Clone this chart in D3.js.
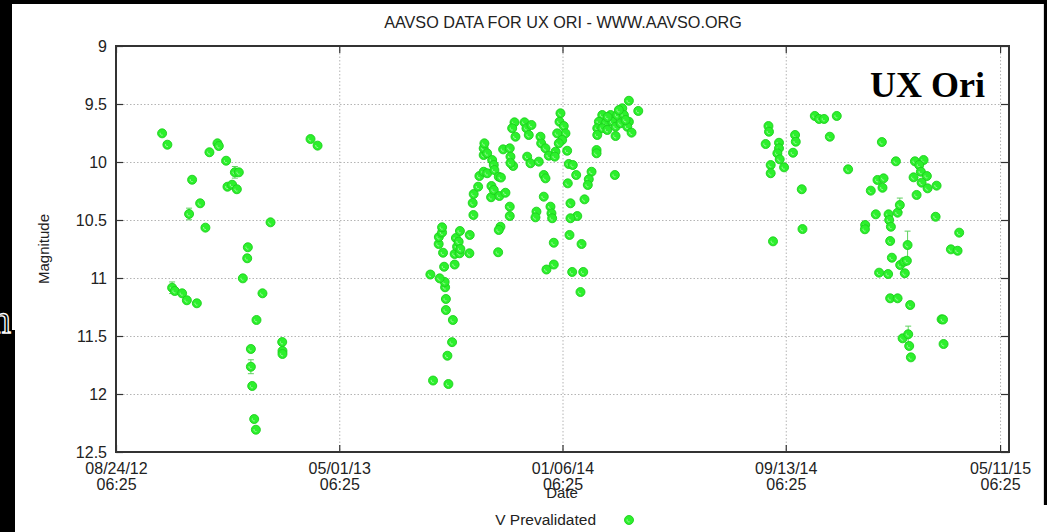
<!DOCTYPE html>
<html>
<head>
<meta charset="utf-8">
<script src="https://cdn.jsdelivr.net/npm/d3@7"></script>
<style>
  html, body { margin: 0; padding: 0; background: #000; }
  svg { display: block; }
  text { font-family: "Liberation Sans", Arial, Helvetica, sans-serif; fill: #222; }
</style>
</head>
<body>
<div id="chart"></div>
<script>
// julian dates minus 2456000, V magnitudes, error (0 = no bar)
var jd = [
  215.4, 221.3, 268.4, 277.4, 278.9, 287.1, 296.9, 301.3, 249.0, 288.6,
  293.8, 299.1, 258.0, 245.6, 263.9, 336.8, 381.6, 389.5, 311.4, 310.7,
  305.8, 327.8, 226.6, 229.6, 237.8, 243.1, 254.3, 321.1, 349.9, 350.2,
  350.2, 314.8, 314.8, 316.3, 318.5, 320.4,
  518.8, 536.0, 534.9, 540.1, 541.0, 533.2, 533.2, 532.3, 531.8, 526.2,
  515.8, 531.2, 530.0, 525.1, 525.3, 528.9, 528.9, 543.0, 543.0, 545.7,
  544.4, 548.9, 548.6, 559.5, 559.9, 547.5, 549.4,
  564.0, 563.2, 564.3, 569.3, 570.7, 575.5, 579.4, 575.5, 575.5, 576.3,
  579.4, 585.0, 586.8, 587.5, 592.4, 594.8, 584.2, 583.8, 586.8, 593.1,
  599.9, 594.3, 592.4, 591.7, 604.7, 604.7, 597.3, 604.7, 605.5, 608.5,
  605.5, 610.0, 607.4, 611.1, 621.2, 623.4, 626.0, 629.0, 624.2, 627.9,
  637.2, 639.1, 639.9, 634.6, 633.5, 642.8, 642.8, 645.8,
  738.1, 748.6, 661.5, 660.4, 665.2, 667.1, 657.8, 663.4, 659.6, 644.7,
  655.9, 648.4, 655.1, 669.0, 670.8, 675.3, 679.1, 644.7, 669.7, 696.3,
  693.2, 692.1, 722.4, 701.9, 701.9, 650.3, 651.4, 652.2, 672.7, 688.4,
  680.3, 672.7, 671.6, 654.0, 685.1, 654.0, 674.6, 687.0, 683.9,
  708.3, 717.6, 704.5, 712.0, 719.5, 725.1, 730.7, 732.5, 702.7, 708.3,
  713.9, 723.2, 728.8, 738.1, 736.3, 702.7, 723.2, 741.1, 734.4, 726.9,
  714.2,
  894.4, 895.0, 891.3, 906.2, 906.2, 904.4, 907.0, 896.9, 896.9, 911.9,
  924.2, 925.0, 921.9, 946.3, 951.1, 956.7, 970.9, 963.1, 931.7, 932.5,
  899.5, 983.6, 1002.7, 1002.4,
  1021.4, 1037.1, 1058.4, 1068.1, 1063.2, 1065.1, 1071.8, 1056.9, 1065.9, 1072.6,
  1082.7, 1060.3, 1016.5, 1023.3, 1022.1, 1009.0, 1014.6, 1028.9, 1039.0, 1041.5,
  1029.6, 1031.5, 1081.6, 1108.0, 1098.7, 1106.2, 1030.7, 1050.2, 1032.6, 1041.9,
  1046.4, 1049.4, 1018.3, 1028.4, 1047.1, 1030.7, 1039.0, 1053.1, 1088.3, 1089.9,
  1044.6, 1050.9, 1052.0, 1090.5, 1053.9
];

var mag = [
  9.753, 9.851, 9.916, 9.839, 9.862, 9.989, 10.089, 10.089, 10.153, 10.213,
  10.196, 10.235, 10.356, 10.448, 10.566, 10.520, 9.802, 9.859, 10.735, 10.830,
  11.003, 11.132, 11.084, 11.112, 11.132, 11.192, 11.218, 11.362, 11.552, 11.629,
  11.655, 11.612, 11.765, 11.931, 12.216, 12.308,
  11.884, 11.914, 11.670, 11.553, 11.362, 11.276, 11.181, 11.080, 11.034, 11.003,
  10.970, 10.903, 10.782, 10.707, 10.647, 10.608, 10.563, 10.884, 10.793, 10.730,
  10.655, 10.595, 10.787, 10.787, 10.629, 10.687, 10.750,
  10.457, 10.353, 10.276, 10.213, 10.121, 10.084, 10.097, 9.940, 9.882, 9.839,
  9.925, 9.983, 10.026, 10.069, 10.127, 10.134, 10.207, 10.304, 10.241, 10.293,
  10.265, 10.558, 10.586, 10.778, 10.385, 10.466, 9.891, 9.882, 9.954, 10.034,
  10.009, 9.658, 9.709, 9.782, 9.658, 9.709, 9.767, 9.681, 9.954, 10.011,
  9.997, 9.782, 9.839, 10.428, 10.477, 10.112, 10.299, 10.927,
  9.472, 9.560, 9.580, 9.653, 9.690, 9.753, 9.753, 9.810, 9.839, 9.882,
  9.911, 9.946, 9.954, 9.903, 10.017, 10.026, 10.112, 10.141, 10.184, 10.084,
  10.149, 10.198, 10.112, 9.897, 9.925, 10.385, 10.442, 10.485, 10.356, 10.322,
  10.466, 10.485, 10.629, 10.696, 10.707, 10.884, 10.948, 10.948, 11.121,
  9.595, 9.595, 9.653, 9.666, 9.653, 9.595, 9.537, 9.595, 9.709, 9.709,
  9.724, 9.696, 9.666, 9.653, 9.696, 9.767, 9.776, 9.747, 9.638, 9.552,
  9.612,
  9.690, 9.739, 9.845, 9.834, 9.882, 9.925, 9.977, 10.026, 10.097, 10.046,
  9.767, 9.825, 9.920, 9.603, 9.629, 9.629, 9.603, 9.782, 10.235, 10.578,
  10.684, 10.063, 10.543, 10.580,
  9.828, 9.994, 9.994, 9.983, 10.026, 10.084, 10.121, 10.132, 10.178, 10.227,
  10.204, 10.284, 10.155, 10.141, 10.222, 10.247, 10.451, 10.451, 10.437, 10.371,
  10.500, 10.558, 10.472, 10.609, 10.753, 10.765, 10.681, 10.716, 10.825, 10.888,
  10.859, 10.851, 10.954, 10.966, 10.959, 11.175, 11.175, 11.233, 11.356, 11.358,
  11.520, 11.485, 11.586, 11.569, 11.684
];

// only a few points show error bars
var errIndex = [6, 13, 22, 32, 214, 222, 236];
var errSize  = [0.05, 0.05, 0.05, 0.06, 0.06, 0.12, 0.07];

var yTicks = [9, 9.5, 10, 10.5, 11, 11.5, 12, 12.5];
var xTicks = ["2012-08-24T06:25Z", "2013-05-01T06:25Z", "2014-01-06T06:25Z",
              "2014-09-13T06:25Z", "2015-05-11T06:25Z"];
var xStart = "2012-08-24T06:25Z";
var xEnd = "2015-05-21T06:25Z";

var title = "AAVSO DATA FOR UX ORI - WWW.AAVSO.ORG";
var starName = "UX Ori";
var legendLabel = "V Prevalidated";

var W = 1047, H = 532;
var margin = {top: 46, right: 38, bottom: 80, left: 116};
var width = W - margin.left - margin.right;
var height = H - margin.top - margin.bottom;

function jdToDate(j) {
    return new Date((2456000 + j - 2440587.5) * 864e5);
}

var points = jd.map(function(j, i) {
    var k = errIndex.indexOf(i);
    return {date: jdToDate(j), mag: mag[i], err: k >= 0 ? errSize[k] : 0};
});

var x = d3.scaleUtc()
    .domain([new Date(xStart), new Date(xEnd)])
    .range([0, width]);
var y = d3.scaleLinear()
    .domain([9, 12.5])
    .range([0, height]);

var svg = d3.select("#chart")
    .append("svg")
    .attr("width", W)
    .attr("height", H);

// page background with black borders
svg.append("rect").attr("width", W).attr("height", H).attr("fill", "#000");
svg.append("rect")
    .attr("x", 12).attr("y", 4)
    .attr("width", 1031).attr("height", H - 4)
    .attr("fill", "#fff");
svg.append("rect").attr("x", 0).attr("y", 330).attr("width", 15).attr("height", H - 330).attr("fill", "#000");
svg.append("rect").attr("x", 1043).attr("y", 505).attr("width", 4).attr("height", H - 505).attr("fill", "#fff");
svg.append("line")
    .attr("x1", 1043.5).attr("x2", 1043.5).attr("y1", 4).attr("y2", 505)
    .attr("stroke", "#ddd");
svg.append("text")
    .attr("x", -9).attr("y", 333)
    .style("font-family", "'Liberation Serif', 'Times New Roman', serif")
    .style("font-size", "40px")
    .style("fill", "#000")
    .attr("stroke", "#fff")
    .attr("stroke-width", 1.3)
    .text("n");

var g = svg.append("g")
    .attr("transform", "translate(" + margin.left + "," + margin.top + ")");

// dotted grid
g.append("g")
    .selectAll("line")
    .data(yTicks.slice(1, -1))
    .enter().append("line")
    .attr("x1", 0).attr("x2", width)
    .attr("y1", function(d) { return y(d) + 0.5; })
    .attr("y2", function(d) { return y(d) + 0.5; })
    .attr("stroke", "#b4b4b4")
    .attr("stroke-dasharray", "1.5,2");

g.append("g")
    .selectAll("line")
    .data(xTicks.slice(1))
    .enter().append("line")
    .attr("x1", function(d) { return x(new Date(d)) + 0.5; })
    .attr("x2", function(d) { return x(new Date(d)) + 0.5; })
    .attr("y1", 0).attr("y2", height)
    .attr("stroke", "#b4b4b4")
    .attr("stroke-dasharray", "1.5,2");

// axes
var fmtDate = d3.utcFormat("%m/%d/%y");
var fmtTime = d3.utcFormat("%H:%M");

var yAxis = g.append("g")
    .call(d3.axisLeft(y).tickValues(yTicks).tickSize(-7).tickPadding(9)
        .tickFormat(d3.format("")));
yAxis.select(".domain").remove();
yAxis.selectAll("line").attr("stroke", "#333").attr("stroke-width", 1.2);
yAxis.selectAll("text").style("font-size", "16px").style("fill", "#222");

var yAxisR = g.append("g")
    .attr("transform", "translate(" + width + ",0)")
    .call(d3.axisRight(y).tickValues(yTicks).tickSize(-8).tickFormat(""));
yAxisR.select(".domain").remove();
yAxisR.selectAll("line").attr("stroke", "#333").attr("stroke-width", 1.2);

var xAxis = g.append("g")
    .attr("transform", "translate(0," + height + ")")
    .call(d3.axisBottom(x).tickValues(xTicks.map(function(d) { return new Date(d); }))
        .tickSize(-7).tickFormat(""));
xAxis.select(".domain").remove();
xAxis.selectAll("line").attr("stroke", "#333").attr("stroke-width", 1.2);
xAxis.selectAll(".tick").each(function(d) {
    var t = d3.select(this).append("text")
        .attr("text-anchor", "middle")
        .style("font-size", "16px")
        .style("fill", "#222");
    t.append("tspan").attr("x", 0).attr("y", 22).text(fmtDate(d));
    t.append("tspan").attr("x", 0).attr("y", 38).text(fmtTime(d));
});

var xAxisT = g.append("g")
    .call(d3.axisTop(x).tickValues(xTicks.map(function(d) { return new Date(d); }))
        .tickSize(-7).tickFormat(""));
xAxisT.select(".domain").remove();
xAxisT.selectAll("line").attr("stroke", "#333").attr("stroke-width", 1.2);

// frame
g.append("rect")
    .attr("x", 0).attr("y", 0)
    .attr("width", width).attr("height", height)
    .attr("fill", "none")
    .attr("stroke", "#333")
    .attr("stroke-width", 2);

// error bars
var eb = g.append("g")
    .selectAll("g")
    .data(points.filter(function(d) { return d.err > 0; }))
    .enter().append("g")
    .attr("stroke", "#5fd25f")
    .attr("stroke-width", 1);
eb.append("line")
    .attr("x1", function(d) { return x(d.date); })
    .attr("x2", function(d) { return x(d.date); })
    .attr("y1", function(d) { return y(d.mag - d.err); })
    .attr("y2", function(d) { return y(d.mag + d.err); });
eb.append("line")
    .attr("x1", function(d) { return x(d.date) - 3; })
    .attr("x2", function(d) { return x(d.date) + 3; })
    .attr("y1", function(d) { return y(d.mag - d.err); })
    .attr("y2", function(d) { return y(d.mag - d.err); });
eb.append("line")
    .attr("x1", function(d) { return x(d.date) - 3; })
    .attr("x2", function(d) { return x(d.date) + 3; })
    .attr("y1", function(d) { return y(d.mag + d.err); })
    .attr("y2", function(d) { return y(d.mag + d.err); });

function marker(sel) {
    sel.append("circle")
        .attr("r", 4.5)
        .attr("fill", "#2cf02c")
        .attr("stroke", "#1ccf1c")
        .attr("stroke-width", 0.9);
    sel.append("path")
        .attr("d", "M-1.8,-0.6 A1.9,1.9 0 0 0 0.6,1.8")
        .attr("fill", "none")
        .attr("stroke", "#a6f8a6")
        .attr("stroke-width", 0.9);
}

g.append("g")
    .selectAll("g")
    .data(points)
    .enter().append("g")
    .attr("transform", function(d) { return "translate(" + x(d.date) + "," + y(d.mag) + ")"; })
    .call(marker);

// labels
svg.append("text")
    .attr("x", 563).attr("y", 28)
    .attr("text-anchor", "middle")
    .style("font-size", "16.2px")
    .text(title);

svg.append("text")
    .attr("transform", "translate(49," + (margin.top + height / 2) + ") rotate(-90)")
    .attr("text-anchor", "middle")
    .style("font-size", "15px")
    .text("Magnitude");

svg.append("text")
    .attr("x", 562).attr("y", 498)
    .attr("text-anchor", "middle")
    .style("font-size", "15px")
    .text("Date");

svg.append("text")
    .attr("x", 985).attr("y", 97)
    .attr("text-anchor", "end")
    .style("font-family", "'Liberation Serif', 'Times New Roman', serif")
    .style("font-weight", "bold")
    .style("font-size", "36px")
    .style("fill", "#000")
    .text(starName);

svg.append("text")
    .attr("x", 596).attr("y", 525)
    .attr("text-anchor", "end")
    .style("font-size", "15.5px")
    .text(legendLabel);

svg.append("g")
    .attr("transform", "translate(629,520)")
    .call(marker);
</script>
</body>
</html>
